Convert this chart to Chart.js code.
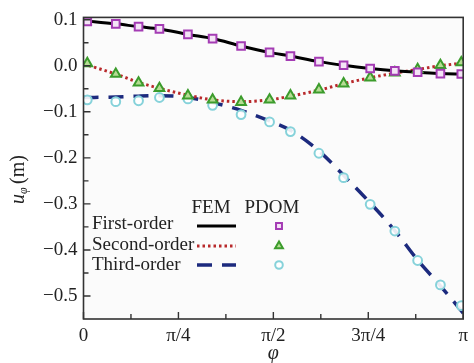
<!DOCTYPE html>
<html>
<head>
<meta charset="utf-8">
<script src="https://cdn.jsdelivr.net/npm/chart.js@4"></script>
<style>
  html, body { margin: 0; padding: 0; background: #fff; }
  #wrap { width: 474px; height: 363px; }
  .probe { position: absolute; left: -999px; top: 0; font-family: "Liberation Serif", "Times New Roman", serif; }
</style>
</head>
<body>
<div id="wrap"><canvas id="phiChart"></canvas></div>
<span class="probe">First-order φ <i>u</i></span>
<script>
// phi in units of pi
var pdomX = [0.01, 0.085, 0.145, 0.2, 0.275, 0.34, 0.415, 0.49, 0.545, 0.62, 0.685, 0.755, 0.82, 0.88, 0.94, 0.995];
var pdomFirst = [0.096, 0.091, 0.085, 0.080, 0.068, 0.059, 0.043, 0.029, 0.021, 0.009, 0.001, -0.006, -0.011, -0.014, -0.017, -0.018];
var pdomSecond = [0.005, -0.018, -0.037, -0.049, -0.065, -0.074, -0.079, -0.074, -0.065, -0.052, -0.039, -0.026, -0.015, -0.008, 0.001, 0.007];
var pdomThird = [-0.074, -0.078, -0.076, -0.069, -0.072, -0.086, -0.106, -0.122, -0.143, -0.190, -0.243, -0.301, -0.359, -0.423, -0.476, -0.521];

var femX = [0, 0.085, 0.145, 0.2, 0.275, 0.34, 0.415, 0.49, 0.545, 0.62, 0.685, 0.755, 0.82, 0.88, 0.94, 1];
var femFirst = [0.098, 0.091, 0.085, 0.080, 0.068, 0.059, 0.043, 0.029, 0.021, 0.009, 0.001, -0.006, -0.011, -0.014, -0.017, -0.018];
var femSecond = [0.004, -0.018, -0.036, -0.049, -0.064, -0.074, -0.078, -0.074, -0.066, -0.053, -0.039, -0.026, -0.016, -0.008, 0.000, 0.006];
var femThird = [-0.069, -0.068, -0.066, -0.065, -0.069, -0.080, -0.097, -0.120, -0.140, -0.185, -0.238, -0.298, -0.358, -0.422, -0.478, -0.537];

var xTicks = [0, 0.25, 0.5, 0.75, 1];
var xTickLabels = ['0', 'π/4', 'π/2', '3π/4', 'π'];
var xMinor = [0.125, 0.375, 0.625, 0.875];
var yTicks = [-0.5, -0.4, -0.3, -0.2, -0.1, 0.0, 0.1];
var yTickLabels = ['−0.5', '−0.4', '−0.3', '−0.2', '−0.1', '0.0', '0.1'];
var yMinor = [0.05, -0.05, -0.15, -0.25, -0.35, -0.45];

var seriesNames = ['First-order', 'Second-order', 'Third-order'];

var FONT = '"Liberation Serif", "Times New Roman", serif';

function pts(xs, ys) {
    return xs.map(function (x, i) { return { x: x, y: ys[i] }; });
}

var sqColor = '#a43cb4', triColor = '#3c9c2c', cirColor = '#86d2da';
var lineStyles = [
    { color: '#000000', width: 3, dash: [] },
    { color: '#b8292b', width: 3, dash: [2.5, 3] },
    { color: '#1c2a7e', width: 3.5, dash: [15, 10] }
];

var extras = {
    id: 'extras',
    beforeDatasetsDraw: function (chart) {
        var c = chart.ctx, a = chart.chartArea;
        c.save();
        c.fillStyle = '#fbfbfb';
        c.fillRect(a.left, a.top, a.right - a.left, a.bottom - a.top);
        c.restore();
    },
    afterDraw: function (chart) {
        var c = chart.ctx, a = chart.chartArea;
        var xs = chart.scales.x, ys = chart.scales.y;
        c.save();
        // frame
        c.strokeStyle = '#333';
        c.lineWidth = 1.6;
        c.strokeRect(a.left, a.top, a.right - a.left, a.bottom - a.top);
        // inward ticks
        c.lineWidth = 1.4;
        c.beginPath();
        xTicks.forEach(function (v) {
            var px = xs.getPixelForValue(v);
            c.moveTo(px, a.bottom); c.lineTo(px, a.bottom - 7);
        });
        xMinor.forEach(function (v) {
            var px = xs.getPixelForValue(v);
            c.moveTo(px, a.bottom); c.lineTo(px, a.bottom - 5);
        });
        yTicks.forEach(function (v) {
            var py = ys.getPixelForValue(v);
            c.moveTo(a.left, py); c.lineTo(a.left + 7, py);
        });
        yMinor.forEach(function (v) {
            var py = ys.getPixelForValue(v);
            c.moveTo(a.left, py); c.lineTo(a.left + 5, py);
        });
        c.stroke();

        // axis titles
        c.fillStyle = '#222';
        c.textBaseline = 'middle';
        c.textAlign = 'center';
        c.font = 'italic 20px ' + FONT;
        c.fillText('φ', (a.left + a.right) / 2, 354);

        c.save();
        c.translate(19, 178);
        c.rotate(-Math.PI / 2);
        c.textAlign = 'left';
        c.font = 'italic 20px ' + FONT;
        c.fillText('u', -26, 0);
        c.font = 'italic 12px ' + FONT;
        c.fillText('φ', -16, 5);
        c.font = '20px ' + FONT;
        c.fillText('(m)', -6, 0);
        c.restore();

        // legend
        c.font = '19px ' + FONT;
        c.textAlign = 'center';
        c.fillText('FEM', 211, 208);
        c.fillText('PDOM', 272, 208);
        c.textAlign = 'left';
        var rows = [224, 245, 265];
        var lineRows = [226, 246, 265];
        seriesNames.forEach(function (name, i) {
            c.fillStyle = '#222';
            c.fillText(name, 92, rows[i]);
            var ls = lineStyles[i];
            c.strokeStyle = ls.color;
            c.lineWidth = ls.width;
            c.setLineDash(ls.dash);
            c.beginPath();
            c.moveTo(197, lineRows[i]);
            c.lineTo(236, lineRows[i]);
            c.stroke();
            c.setLineDash([]);
        });
        // legend markers
        var mk = [
            { style: 'rect', radius: 4.2, color: sqColor, fill: '#f4e4f6' },
            { style: 'triangle', radius: 4.5, color: triColor, fill: '#b6dc94' },
            { style: 'circle', radius: 3.8, color: cirColor, fill: '#ffffff' }
        ];
        mk.forEach(function (m, i) {
            c.strokeStyle = m.color;
            c.fillStyle = m.fill;
            c.lineWidth = 2;
            Chart.helpers.drawPoint(c, { pointStyle: m.style, radius: m.radius, rotation: 0, borderWidth: 2 }, 279, lineRows[i]);
        });
        c.restore();
    }
};

var lineBase = { showLine: true, pointRadius: 0, fill: false, cubicInterpolationMode: 'monotone', order: 2 };
var markBase = { showLine: false, borderWidth: 2, order: 1 };

function drawChart() {
    new Chart(document.getElementById('phiChart').getContext('2d'), {
        type: 'scatter',
        data: {
            datasets: [
                Object.assign({ label: 'First-order FEM', data: pts(femX, femFirst), borderColor: lineStyles[0].color, borderWidth: lineStyles[0].width, borderDash: lineStyles[0].dash }, lineBase),
                Object.assign({ label: 'Second-order FEM', data: pts(femX, femSecond), borderColor: lineStyles[1].color, borderWidth: lineStyles[1].width, borderDash: lineStyles[1].dash }, lineBase),
                Object.assign({ label: 'Third-order FEM', data: pts(femX, femThird), borderColor: lineStyles[2].color, borderWidth: lineStyles[2].width, borderDash: lineStyles[2].dash }, lineBase),
                Object.assign({ label: 'First-order PDOM', data: pts(pdomX, pdomFirst), pointStyle: 'rect', pointRadius: 5.4, borderColor: sqColor, backgroundColor: '#f4e4f6' }, markBase),
                Object.assign({ label: 'Second-order PDOM', data: pts(pdomX, pdomSecond), pointStyle: 'triangle', pointRadius: 5.6, borderColor: triColor, backgroundColor: '#b6dc94' }, markBase),
                Object.assign({ label: 'Third-order PDOM', data: pts(pdomX, pdomThird), pointStyle: 'circle', pointRadius: 4.4, borderWidth: 2.6, borderColor: cirColor, backgroundColor: 'rgba(255,255,255,0.9)' }, markBase)
            ]
        },
        options: {
            responsive: true,
            maintainAspectRatio: false,
            animation: false,
            events: [],
            layout: { padding: { top: 13, right: 7, left: 0, bottom: 0 } },
            plugins: { legend: { display: false }, tooltip: { enabled: false } },
            scales: {
                x: {
                    type: 'linear',
                    min: 0,
                    max: 1,
                    afterBuildTicks: function (s) { s.ticks = xTicks.map(function (v) { return { value: v }; }); },
                    afterFit: function (s) { s.height = 44; },
                    grid: { display: false, drawTicks: false },
                    border: { display: false },
                    ticks: {
                        padding: 6,
                        color: '#222',
                        maxRotation: 0,
                        font: { family: FONT, size: 19 },
                        callback: function (v) { return xTickLabels[xTicks.indexOf(v)]; }
                    }
                },
                y: {
                    type: 'linear',
                    min: -0.55,
                    max: 0.105,
                    afterBuildTicks: function (s) { s.ticks = yTicks.map(function (v) { return { value: v }; }); },
                    afterFit: function (s) { s.width = 83.5; },
                    grid: { display: false, drawTicks: false },
                    border: { display: false },
                    ticks: {
                        padding: 6,
                        color: '#222',
                        font: { family: FONT, size: 19 },
                        callback: function (v) { return yTickLabels[yTicks.indexOf(v)]; }
                    }
                }
            }
        },
        plugins: [extras]
    });
}

if (document.fonts && document.fonts.load) {
    Promise.all([
        document.fonts.load('19px "Liberation Serif"'),
        document.fonts.load('italic 19px "Liberation Serif"')
    ]).then(drawChart, drawChart);
} else {
    drawChart();
}
</script>
</body>
</html>
